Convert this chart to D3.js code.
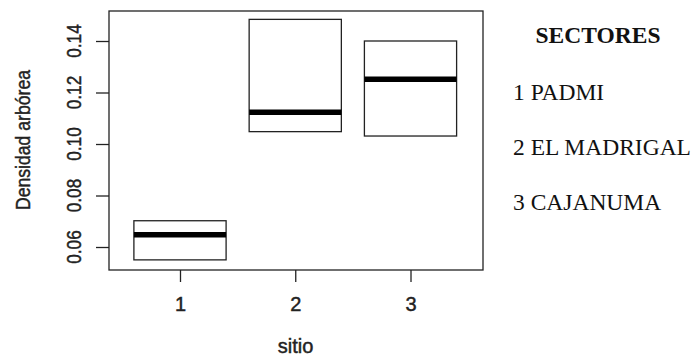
<!DOCTYPE html>
<html>
<head>
<meta charset="utf-8">
<script src="https://cdn.jsdelivr.net/npm/d3@7"></script>
<style>
  html, body { margin: 0; padding: 0; background: #fff; }
</style>
</head>
<body>
<div id="chart"></div>
<script>
// Boxplot de densidad arbórea por sitio
const sitios = [1, 2, 3];
const q1 = [0.0550, 0.1048, 0.1031];
const medianas = [0.0648, 0.1123, 0.1251];
const q3 = [0.0702, 0.1484, 0.1400];
const yTicks = [0.06, 0.08, 0.10, 0.12, 0.14];
const yTickLabels = ["0.06", "0.08", "0.10", "0.12", "0.14"];
const legendTitle = "SECTORES";
const legendLabels = ["1 PADMI", "2 EL MADRIGAL", "3 CAJANUMA"];

const width = 694, height = 356;
const plot = { left: 109, right: 483, top: 11, bottom: 270 };

const svg = d3.select("#chart").append("svg")
    .attr("width", width)
    .attr("height", height);

const x = d3.scaleLinear().domain([0.384, 3.629]).range([plot.left, plot.right]);
const y = d3.scaleLinear().domain([0.05107, 0.15165]).range([plot.bottom, plot.top]);

const ink = "#222";
const boxW = 0.8;
const sans = "Liberation Sans, Arial, sans-serif";

// boxes
const boxes = svg.append("g");
sitios.forEach((s, i) => {
    boxes.append("rect")
        .attr("x", x(s - boxW / 2))
        .attr("y", y(q3[i]))
        .attr("width", x(s + boxW / 2) - x(s - boxW / 2))
        .attr("height", y(q1[i]) - y(q3[i]))
        .attr("fill", "none")
        .attr("stroke", ink)
        .attr("stroke-width", 1.3);
    boxes.append("line")
        .attr("x1", x(s - boxW / 2))
        .attr("x2", x(s + boxW / 2))
        .attr("y1", y(medianas[i]))
        .attr("y2", y(medianas[i]))
        .attr("stroke", "#000")
        .attr("stroke-width", 5.5);
});

// frame
svg.append("rect")
    .attr("x", plot.left)
    .attr("y", plot.top)
    .attr("width", plot.right - plot.left)
    .attr("height", plot.bottom - plot.top)
    .attr("fill", "none")
    .attr("stroke", ink)
    .attr("stroke-width", 1.3);

// y axis
const yAxis = svg.append("g")
    .attr("transform", `translate(${plot.left},0)`)
    .call(d3.axisLeft(y).tickValues(yTicks).tickSize(13).tickFormat((d, i) => yTickLabels[i]));
yAxis.select(".domain").remove();
yAxis.selectAll("line").attr("stroke", ink).attr("stroke-width", 1.3);
yAxis.selectAll("text").remove();
yTicks.forEach((t, i) => {
    svg.append("text")
        .attr("transform", `translate(80.5,${y(t)}) rotate(-90) scale(0.86,1)`)
        .attr("text-anchor", "middle")
        .attr("font-family", sans)
        .attr("font-size", "20px")
        .attr("fill", ink)
        .attr("stroke", ink)
        .attr("stroke-width", 0.45)
        .text(yTickLabels[i]);
});

// x axis
const xAxis = svg.append("g")
    .attr("transform", `translate(0,${plot.bottom})`)
    .call(d3.axisBottom(x).tickValues(sitios).tickSize(12).tickFormat(d3.format("d")));
xAxis.select(".domain").remove();
xAxis.selectAll("line").attr("stroke", ink).attr("stroke-width", 1.3);
xAxis.selectAll("text")
    .attr("y", 0)
    .attr("dy", 0)
    .attr("transform", "translate(0,40.5)")
    .attr("font-family", sans)
    .attr("font-size", "20px")
    .attr("fill", ink)
    .attr("stroke", ink)
    .attr("stroke-width", 0.45);

// axis titles
svg.append("text")
    .attr("x", (plot.left + plot.right) / 2 - 0.5)
    .attr("y", 353)
    .attr("text-anchor", "middle")
    .attr("font-family", sans)
    .attr("font-size", "20px")
    .attr("fill", ink)
    .attr("stroke", ink)
    .attr("stroke-width", 0.45)
    .text("sitio");

svg.append("text")
    .attr("transform", "translate(29.5,140) rotate(-90) scale(0.86,1)")
    .attr("text-anchor", "middle")
    .attr("font-family", sans)
    .attr("font-size", "20.5px")
    .attr("fill", ink)
    .attr("stroke", ink)
    .attr("stroke-width", 0.45)
    .text("Densidad arbórea");

// legend
svg.append("text")
    .attr("x", 598)
    .attr("y", 43)
    .attr("text-anchor", "middle")
    .attr("font-family", "Liberation Serif, Times New Roman, serif")
    .attr("font-weight", "bold")
    .attr("font-size", "23.5px")
    .attr("fill", "#111")
    .text(legendTitle);

svg.append("g").selectAll("text")
    .data(legendLabels)
    .join("text")
    .attr("x", 513)
    .attr("y", (d, i) => 100 + i * 55)
    .attr("font-family", "Liberation Serif, Times New Roman, serif")
    .attr("font-size", "23.5px")
    .attr("fill", "#111")
    .text(d => d);
</script>
</body>
</html>
